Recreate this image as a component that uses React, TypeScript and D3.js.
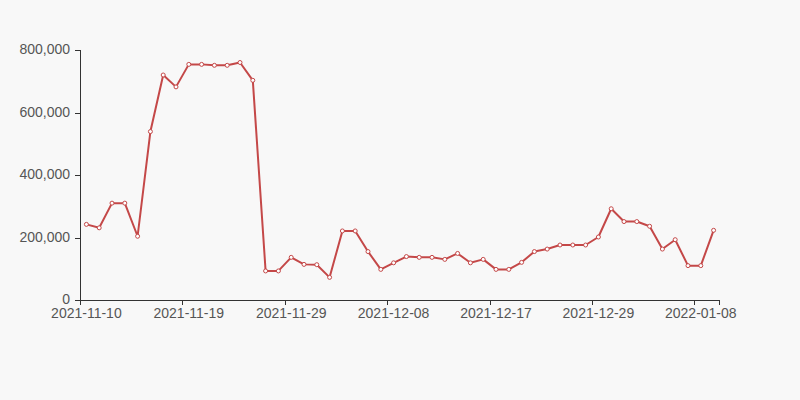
import React from "react";
import * as d3 from "d3";

const dates: string[] = [
  "2021-11-10", "2021-11-11", "2021-11-12", "2021-11-13", "2021-11-14", "2021-11-15", "2021-11-16", "2021-11-17",
  "2021-11-19", "2021-11-20", "2021-11-21", "2021-11-22", "2021-11-23", "2021-11-24", "2021-11-26", "2021-11-27",
  "2021-11-29", "2021-11-30", "2021-12-01", "2021-12-02", "2021-12-03", "2021-12-04", "2021-12-06", "2021-12-07",
  "2021-12-08", "2021-12-09", "2021-12-10", "2021-12-11", "2021-12-13", "2021-12-14", "2021-12-15", "2021-12-16",
  "2021-12-17", "2021-12-18", "2021-12-20", "2021-12-21", "2021-12-23", "2021-12-24", "2021-12-27", "2021-12-28",
  "2021-12-29", "2021-12-30", "2021-12-31", "2022-01-02", "2022-01-03", "2022-01-04", "2022-01-05", "2022-01-06",
  "2022-01-08", "2022-01-09",
];

const values: number[] = [
  242000, 231000, 310000, 310000, 204000, 539000, 720000, 682000,
  754000, 754000, 751000, 751000, 760000, 703000, 93000, 93000,
  136500, 114000, 113000, 72500, 221000, 221000, 155000, 98000,
  119000, 139000, 136500, 136500, 130000, 149000, 119000, 130000,
  98000, 98000, 120500, 155000, 163000, 176000, 176000, 176000,
  201600, 292000, 251000, 251000, 236000, 163000, 193000, 110000,
  110000, 223000,
];

const yTicks: number[] = [0, 200000, 400000, 600000, 800000];
const labelEvery = 8;

export default function App() {
  const W = 800, H = 400;
  const left = 80, right = 720, top = 50, bottom = 300;
  const x = d3.scaleBand<string>().domain(dates).range([left, right]).padding(0);
  const y = d3.scaleLinear().domain([0, 800000]).range([bottom, top]);
  const bw = x.bandwidth();
  const cx = (d: string) => (x(d) as number) + bw / 2;
  const line = d3.line<number>().x((_, i) => cx(dates[i])).y((v) => y(v));
  const fmt = d3.format(",");
  const font = "'Liberation Sans', Arial, sans-serif";
  const color = "#c44848";
  const axisColor = "#333";
  const textColor = "#555";
  const tickIdx = dates.map((_, i) => i).filter((i) => i % labelEvery === 0);

  return (
    <svg width={W} height={H} style={{ position: "absolute", left: 0, top: 0, background: "#f8f8f8" }}>
      <rect x={0} y={0} width={W} height={H} fill="#f8f8f8" />
      {/* y axis */}
      <line x1={left + 0.5} x2={left + 0.5} y1={top} y2={bottom} stroke={axisColor} />
      {yTicks.map((t) => (
        <g key={t}>
          <line x1={left - 5} x2={left} y1={Math.round(y(t)) + 0.5} y2={Math.round(y(t)) + 0.5} stroke={axisColor} />
          <text x={left - 10} y={y(t)} dy="0.3em" textAnchor="end" fontSize={14} fontFamily={font} fill={textColor}>
            {fmt(t)}
          </text>
        </g>
      ))}
      {/* x axis */}
      <line x1={left} x2={right} y1={bottom + 0.5} y2={bottom + 0.5} stroke={axisColor} />
      {tickIdx.map((i) => (
        <g key={i}>
          <line x1={Math.round(x(dates[i]) as number) + 0.5} x2={Math.round(x(dates[i]) as number) + 0.5} y1={bottom} y2={bottom + 5} stroke={axisColor} />
          <text x={cx(dates[i])} y={bottom + 18} textAnchor="middle" fontSize={14} fontFamily={font} fill={textColor}>
            {dates[i]}
          </text>
        </g>
      ))}
      <line x1={right - 0.5} x2={right - 0.5} y1={bottom} y2={bottom + 5} stroke={axisColor} />
      {/* series */}
      <path d={line(values) || ""} fill="none" stroke={color} strokeWidth={2} strokeLinejoin="bevel" />
      {values.map((v, i) => (
        <circle key={i} cx={cx(dates[i])} cy={y(v)} r={2} fill="#fff" stroke={color} strokeWidth={1} />
      ))}
    </svg>
  );
}
